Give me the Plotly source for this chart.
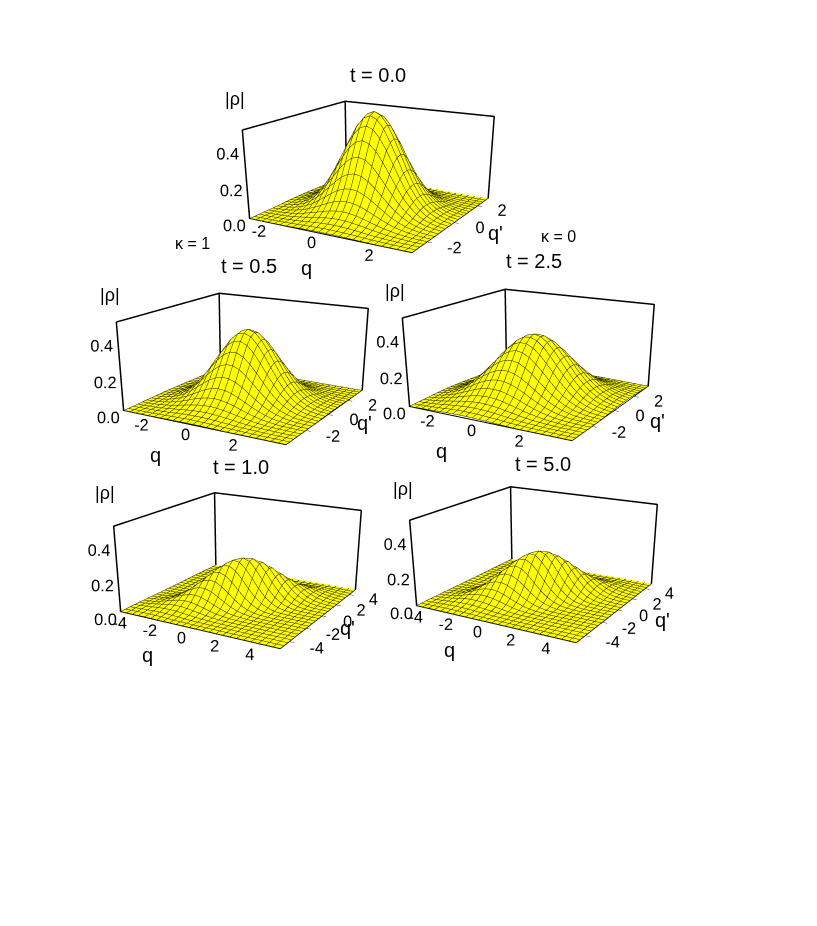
import plotly.graph_objects as go

# half tables of |rho| in thousandths: row r = distance from centre, the rest follows by the surface's symmetry
T00 = [
[564],
[530,547,530],
[439,483,498,483,439],
[321,376,412,426,412,376,321],
[207,258,302,332,342,332,302,258,207],
[118,157,195,228,250,258,250,228,195,157,118],
[59,84,111,138,162,177,183,177,162,138,111,84,59],
[26,40,56,74,92,108,118,122,118,108,92,74,56,40,26],
[10,17,25,35,46,58,67,74,76,74,67,58,46,35,25,17,10],
[4,6,10,15,21,27,34,40,44,45,44,40,34,27,21,15,10,6,4],
[1,2,3,5,8,11,15,19,22,24,25,24,22,19,15,11,8,5,3,2,1],
[0,1,1,2,3,4,6,8,10,11,12,13,12,11,10,8,6,4,3,2,1,1,0],
[0,0,0,1,1,1,2,3,4,5,6,6,6,6,6,5,4,3,2,1,1,1,0,0,0],
]
T05 = [
[420],
[397,406,390],
[336,363,368,350,311],
[253,290,311,313,294,259,214],
[171,207,235,250,249,232,202,165,126],
[103,132,159,178,188,185,171,148,119,91,64],
[55,75,95,114,127,132,129,118,101,81,61,43,28],
[27,38,51,65,76,84,87,84,76,65,51,38,27,17,11],
[11,17,25,33,41,48,52,54,51,46,39,30,22,16,10,6,3],
[4,7,11,15,20,24,28,30,31,29,26,22,17,12,8,5,3,2,1],
[2,3,4,6,8,11,14,16,17,17,16,14,11,9,6,4,3,2,1,0,0],
[0,1,1,2,3,4,6,7,8,9,8,8,7,6,4,3,2,1,1,0,0,0,0],
[0,0,0,1,1,2,2,3,3,4,4,4,4,3,3,2,1,1,1,0,0,0,0,0,0],
]
T25 = [
[370],
[356,360,345],
[318,334,332,313,280],
[263,287,297,290,269,237,197],
[202,229,246,250,241,219,190,155,121],
[144,169,188,199,199,189,170,144,116,89,64],
[95,116,134,147,153,150,140,124,104,82,62,44,30],
[58,73,89,101,109,111,108,99,86,71,55,41,29,19,12],
[33,43,54,64,72,76,77,73,66,56,46,35,25,18,11,7,4],
[17,24,31,38,44,48,51,50,47,42,35,28,21,15,10,7,4,2,1],
[8,12,16,21,25,28,31,32,31,29,25,21,16,12,8,6,4,2,1,1,0],
[4,6,8,10,13,16,18,19,19,18,17,14,12,9,6,5,3,2,1,1,0,0,0],
[2,2,4,5,6,8,9,10,11,11,10,9,8,6,5,3,2,1,1,1,0,0,0,0,0],
]
T10 = [
[265],
[255,249,215],
[227,231,207,164,115],
[188,198,185,152,111,71,41],
[144,157,152,131,99,66,39,20,9],
[102,116,117,104,82,57,35,19,9,4,1],
[67,79,83,76,62,45,29,16,8,4,1,0,0],
[41,50,54,52,44,33,22,13,7,3,1,0,0,0,0],
[23,29,33,33,29,23,16,10,5,2,1,0,0,0,0,0,0],
[12,16,19,19,18,14,10,6,4,2,1,0,0,0,0,0,0,0,0],
[6,8,10,10,10,8,6,4,2,1,1,0,0,0,0,0,0,0,0,0,0],
[3,4,5,5,5,5,3,2,1,1,0,0,0,0,0,0,0,0,0,0,0,0,0],
[1,2,2,2,3,2,2,1,1,0,0,0,0,0,0,0,0,0,0,0,0,0,0,0,0],
]
T50 = [
[270],
[259,255,222],
[230,235,214,173,124],
[189,201,190,159,119,79,47],
[143,158,155,136,106,73,45,25,12],
[100,115,118,107,87,63,40,23,12,5,2],
[65,77,82,78,66,49,33,19,10,5,2,1,0],
[38,48,53,52,46,36,25,15,8,4,2,1,0,0,0],
[21,28,32,32,30,24,17,11,6,3,1,1,0,0,0,0,0],
[11,15,17,19,18,15,11,7,4,2,1,0,0,0,0,0,0,0,0],
[5,7,9,10,10,9,7,5,3,2,1,0,0,0,0,0,0,0,0,0,0],
[2,3,4,5,5,5,4,3,2,1,1,0,0,0,0,0,0,0,0,0,0,0,0],
[1,1,2,2,2,2,2,1,1,1,0,0,0,0,0,0,0,0,0,0,0,0,0,0,0],
]

TITLES = ["t = 0.0", "t = 0.5", "t = 2.5", "t = 1.0", "t = 5.0"]
LIMITS = [3, 3.6, 3.6, 5, 5]
QTICKS = [[-2,0,2], [-2,0,2], [-2,0,2], [-4,-2,0,2,4], [-4,-2,0,2,4]]
TABLES = [T00, T05, T25, T10, T50]
ZVALS = [0, .1, .2, .3, .4, .5]
ZTEXT = ["0.0", "", "0.2", "", "0.4", ""]
CENTERS = [(374,159), (248,351), (534,347), (243,551), (539,545)]
OFFSETS = [128, 128, 128, 104, 104]
TITLE_POS = [(378,75), (249,266), (534,261), (241,467), (543,464)]
RHO_POS = [(235,99), (110,295), (395,291), (105,493), (403,489)]
Q_POS = [(306,268), (155,455), (441,451), (147,655), (449,650)]
QP_POS = [(495,233), (364,423), (657,421), (347,628), (662,620)]
SCENE_W, SCENE_H = 440, 558
W, H = 817, 926
PAGE_PAD = 8
ZTOP, ZBOX = 0.6, 0.5
FONT = "Liberation Sans"
EYE = (1.846, -3.2, 1.72)

def full_grid(tab):
    n = len(tab) - 1
    out = []
    for i in range(-n, n + 1):
        row = []
        for j in range(-n, n + 1):
            u, v = i, j
            if u + v > 0:
                u, v = -u, -v
            if u > v:
                u, v = v, u
            row.append(tab[-u][v - u] / 1000)
        out.append(row)
    return out

fig = go.Figure()
layout = {}
for k, tab in enumerate(TABLES):
    name = "scene" if k == 0 else f"scene{k+1}"
    L = LIMITS[k]
    n = len(tab) - 1
    step = L / n
    axis = [-L + step * i for i in range(2 * n + 1)]
    fig.add_trace(go.Surface(
        x=axis, y=axis, z=full_grid(tab), scene=name, showscale=False,
        colorscale=[[0, "#ffff00"], [1, "#ffff00"]],
        lighting=dict(ambient=0.8, diffuse=0.35, specular=0.0, roughness=1),
        lightposition=dict(x=1000, y=-1000, z=3000),
        contours=dict(
            x=dict(show=True, start=-L, end=L, size=step, color="#222200", width=1),
            y=dict(show=True, start=-L, end=L, size=step, color="#222200", width=1),
        ),
        hoverinfo="skip",
    ))
    fig.add_trace(go.Scatter3d(
        x=[-L, -L, -L, L, L, None, -L, -L],
        y=[-L, -L, L, L, L, None, L, L],
        z=[0, ZBOX, ZBOX, ZBOX, 0, None, 0, ZBOX],
        mode="lines", line=dict(color="black", width=3), scene=name,
        showlegend=False, hoverinfo="skip",
    ))
    cx, cy = CENTERS[k][0] - PAGE_PAD, CENTERS[k][1] - PAGE_PAD
    # every panel views its box from below the middle of a tall scene, with the same camera
    dom_cy = cy + OFFSETS[k]
    shift = -OFFSETS[k] / 162
    ax = dict(showbackground=False, showgrid=False, zeroline=False, showspikes=False,
              title=dict(text=""), tickfont=dict(family=FONT, size=14, color="black"),
              ticks="outside", ticklen=4, tickcolor="black", tickangle=0, showline=True,
              linecolor="black", linewidth=2)
    qlabels = [str(v) for v in QTICKS[k]]
    layout[name] = dict(
        domain=dict(x=[(cx - SCENE_W/2)/W, (cx + SCENE_W/2)/W],
                    y=[max(0, 1 - (dom_cy + SCENE_H/2)/H), min(1, 1 - (dom_cy - SCENE_H/2)/H)]),
        xaxis=dict(ax, range=[-L, L], tickvals=QTICKS[k], ticktext=qlabels),
        yaxis=dict(ax, range=[-L, L], tickvals=QTICKS[k], ticktext=qlabels, ticklen=1),
        zaxis=dict(ax, range=[0, ZTOP], tickvals=ZVALS, ticktext=ZTEXT, showline=False, ticklen=2),
        aspectmode="manual", aspectratio=dict(x=1, y=1, z=0.58),
        camera=dict(eye=dict(x=EYE[0], y=EYE[1], z=EYE[2] + shift),
                    center=dict(x=0, y=0, z=shift),
                    projection=dict(type="perspective")),
        bgcolor="rgba(0,0,0,0)",
    )

def note(text, pos, size):
    return dict(text=text, x=(pos[0]-PAGE_PAD)/W, y=1 - (pos[1]-PAGE_PAD)/H, xref="paper", yref="paper",
                showarrow=False, xanchor="center", yanchor="middle",
                font=dict(family=FONT, size=size, color="black"))

notes = []
for k in range(5):
    notes.append(note(TITLES[k], TITLE_POS[k], 20))
    notes.append(note("|ρ|", RHO_POS[k], 18))
    notes.append(note("q", Q_POS[k], 20))
    notes.append(note("q'", QP_POS[k], 20))
notes.append(note("κ = 1", (192,243), 16))
notes.append(note("κ = 0", (558,236), 16))

fig.update_layout(width=W, height=H, margin=dict(l=0, r=0, t=0, b=0), showlegend=False,
                  paper_bgcolor="white", annotations=notes, **layout)
fig.write_html("out.html")
